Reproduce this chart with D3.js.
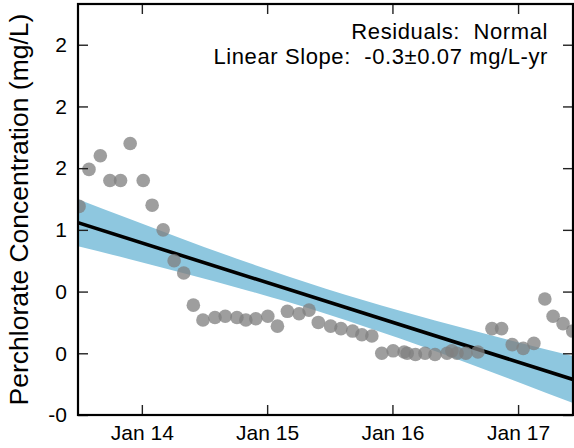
<!DOCTYPE html>
<html>
<head>
<meta charset="utf-8">
<script src="https://cdn.jsdelivr.net/npm/d3@7"></script>
<style>
  html, body { margin: 0; padding: 0; background: #fff; }
  svg { display: block; font-family: "Liberation Sans", Arial, Helvetica, sans-serif; }
</style>
</head>
<body>
<div id="chart"></div>
<script>
// ---- data ----
const sampleDates = [
  "2013-07-02","2013-07-31","2013-09-02","2013-09-30","2013-10-31","2013-11-28",
  "2014-01-05","2014-01-31","2014-03-04","2014-04-05","2014-05-03","2014-05-31",
  "2014-06-28","2014-08-02","2014-09-01","2014-10-05","2014-10-31","2014-11-29",
  "2015-01-03","2015-01-31","2015-03-01","2015-04-04","2015-05-03","2015-05-30",
  "2015-07-05","2015-08-04","2015-09-07","2015-10-04","2015-11-02","2015-12-01",
  "2016-01-03","2016-02-04","2016-02-13","2016-03-08","2016-04-05","2016-05-04",
  "2016-06-08","2016-06-22","2016-07-07","2016-08-02","2016-09-06","2016-10-17",
  "2016-11-14","2016-12-15","2017-01-16","2017-02-16","2017-03-20","2017-04-13",
  "2017-05-12","2017-06-09"
];
const concentrations = [
  1.19, 1.49, 1.60, 1.40, 1.40, 1.70,
  1.40, 1.20, 1.00, 0.75, 0.65, 0.39,
  0.27, 0.29, 0.30, 0.29, 0.27, 0.28,
  0.30, 0.22, 0.34, 0.32, 0.35, 0.25,
  0.22, 0.20, 0.18, 0.15, 0.14, 0.00,
  0.02, 0.01, 0.00, -0.01, 0.00, -0.01,
  0.00, 0.02, 0.00, 0.00, 0.01, 0.20,
  0.20, 0.07, 0.04, 0.08, 0.44, 0.30,
  0.24, 0.18
];
const trendDates = ["2013-06-29", "2017-06-10"];
const trendValues = [1.058, -0.212];
const bandDates = ["2013-06-29","2013-11-27","2014-04-22","2014-11-12","2015-06-21",
                   "2016-01-23","2016-08-14","2017-01-06","2017-06-10"];
const bandUpper = [1.249, 1.088, 0.935, 0.729, 0.523, 0.345, 0.190, 0.086, -0.021];
const bandLower = [0.867, 0.762, 0.657, 0.503, 0.321, 0.119, -0.086, -0.238, -0.403];
const xDomain = ["2013-06-29", "2017-06-10"];
const yDomain = [-0.5, 2.83];
const xTickDates = ["2014-01-01", "2015-01-01", "2016-01-01", "2017-01-01"];
const yTickValues = [-0.5, 0, 0.5, 1, 1.5, 2, 2.5];
const yTickLabels = ["-0", "0", "0", "1", "2", "2", "2"];
const yTitle = "Perchlorate Concentration (mg/L)";
const noteLines = ["Residuals:  Normal", "Linear Slope:  -0.3\u00b10.07 mg/L-yr"];

// ---- layout ----
const W = 574, H = 448;
const margin = { left: 78, top: 4, right: 1, bottom: 33 };
const iw = W - margin.left - margin.right;
const ih = H - margin.top - margin.bottom;
const parse = d3.timeParse("%Y-%m-%d");

const points = sampleDates.map((d, i) => ({ date: parse(d), value: concentrations[i] }));
const trend = trendDates.map((d, i) => ({ date: parse(d), value: trendValues[i] }));
const band = bandDates.map((d, i) => ({ date: parse(d), hi: bandUpper[i], lo: bandLower[i] }));

const x = d3.scaleTime().domain(xDomain.map(parse)).range([0, iw]);
const y = d3.scaleLinear().domain(yDomain).range([ih, 0]);

const svg = d3.select("#chart").append("svg").attr("width", W).attr("height", H);
svg.append("defs").append("clipPath").attr("id", "plotclip")
  .append("rect").attr("width", iw).attr("height", ih);

const g = svg.append("g").attr("transform", `translate(${margin.left},${margin.top})`);
const plot = g.append("g").attr("clip-path", "url(#plotclip)");

plot.append("path").datum(band)
  .attr("fill", "#8ec7df")
  .attr("d", d3.area().x(d => x(d.date)).y0(d => y(d.lo)).y1(d => y(d.hi)).curve(d3.curveMonotoneX));

plot.append("path").datum(trend)
  .attr("fill", "none").attr("stroke", "#000").attr("stroke-width", 3.6)
  .attr("d", d3.line().x(d => x(d.date)).y(d => y(d.value)));

plot.selectAll("circle").data(points).enter().append("circle")
  .attr("cx", d => x(d.date)).attr("cy", d => y(d.value)).attr("r", 6.8)
  .attr("fill", "#808080").attr("fill-opacity", 0.76);

// ---- axes (ticks pointing inward) ----
const tickDates = xTickDates.map(parse);
const fmt = d3.timeFormat("%b %y");
function styleAxis(sel, fs) {
  sel.select(".domain").remove();
  sel.selectAll(".tick line").attr("stroke", "#222").attr("stroke-width", 1.4);
  sel.selectAll(".tick text").attr("fill", "#000").style("font-size", fs + "px")
    .style("font-family", '"Liberation Sans", Arial, Helvetica, sans-serif');
}
g.append("g").attr("transform", `translate(0,${ih})`)
  .call(d3.axisBottom(x).tickValues(tickDates).tickFormat(fmt).tickSizeInner(-10).tickSizeOuter(0).tickPadding(10))
  .call(s => styleAxis(s, 21));
g.append("g")
  .call(d3.axisTop(x).tickValues(tickDates).tickFormat("").tickSizeInner(-10).tickSizeOuter(0))
  .call(s => styleAxis(s, 21));
g.append("g")
  .call(d3.axisLeft(y).tickValues(yTickValues).tickFormat((d, i) => yTickLabels[i]).tickSizeInner(-10).tickSizeOuter(0).tickPadding(11))
  .call(s => styleAxis(s, 21));
g.append("g").attr("transform", `translate(${iw},0)`)
  .call(d3.axisRight(y).tickValues(yTickValues).tickFormat("").tickSizeInner(-10).tickSizeOuter(0))
  .call(s => styleAxis(s, 21));

g.append("rect").attr("width", iw).attr("height", ih)
  .attr("fill", "none").attr("stroke", "#000").attr("stroke-width", 2.2);

// ---- texts ----
svg.append("text")
  .attr("transform", `translate(28,${margin.top + ih / 2}) rotate(-90)`)
  .attr("text-anchor", "middle").style("font-size", "26.5px").attr("fill", "#000")
  .text(yTitle);

svg.append("g").selectAll("text").data(noteLines).enter().append("text")
  .attr("x", 548).attr("y", (d, i) => 38.5 + i * 25.5)
  .attr("text-anchor", "end").style("font-size", "22px").style("white-space", "pre")
  .style("letter-spacing", "0.6px")
  .attr("fill", "#000")
  .text(d => d);
</script>
</body>
</html>
